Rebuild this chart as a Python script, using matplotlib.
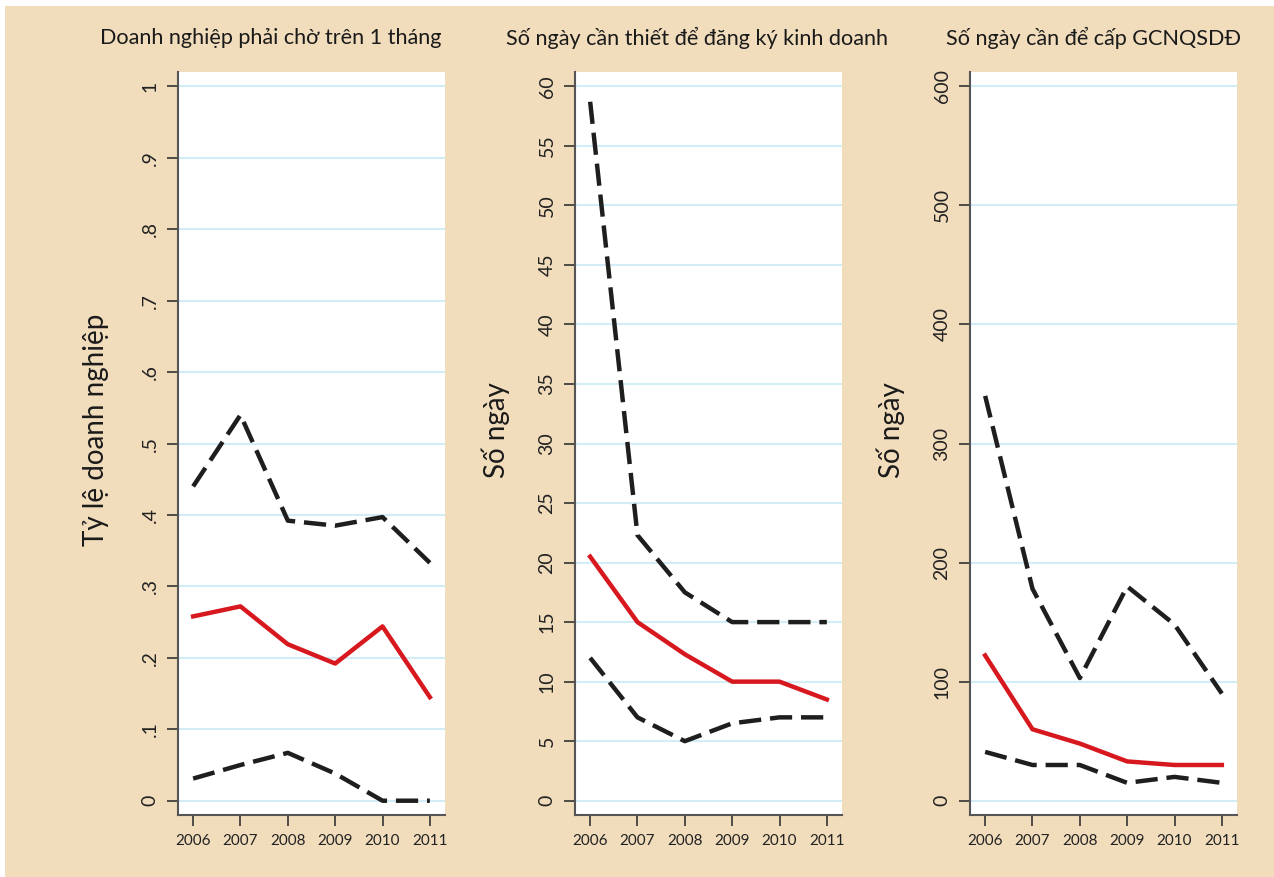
import numpy as np
import matplotlib
matplotlib.use("Agg")
import matplotlib.pyplot as plt
from matplotlib.patches import Rectangle

years = [2006, 2007, 2008, 2009, 2010, 2011]

# panel 1: share of firms waiting more than one month
wait_upper = [0.44, 0.54, 0.392, 0.385, 0.397, 0.333]
wait_mid = [0.258, 0.272, 0.219, 0.192, 0.244, 0.145]
wait_lower = [0.031, 0.05, 0.067, 0.038, 0.0, 0.0]

# panel 2: days to register a business
reg_upper = [58.7, 22.3, 17.5, 15, 15, 15]
reg_mid = [20.5, 15, 12.3, 10, 10, 8.5]
reg_lower = [12, 7, 5, 6.5, 7, 7]

# panel 3: days to get land use certificate
land_upper = [340, 178, 103, 180, 148, 90]
land_mid = [122, 60, 48, 33, 30, 30]
land_lower = [41, 30, 30, 15, 20, 15]

titles = ["Doanh nghiệp phải chờ trên 1 tháng",
          "Số ngày cần thiết để đăng ký kinh doanh",
          "Số ngày cần để cấp GCNQSDĐ"]
ylabels = ["Tỷ lệ doanh nghiệp", "Số ngày", "Số ngày"]

p1_ticks = [0, .1, .2, .3, .4, .5, .6, .7, .8, .9, 1]
p1_labels = ["0", ".1", ".2", ".3", ".4", ".5", ".6", ".7", ".8", ".9", "1"]
p2_ticks = list(range(0, 61, 5))
p3_ticks = list(range(0, 601, 100))

BG = "#f1dcbc"
GRID = "#d2ecf8"
RED = "#d7181f"
DARK = "#1e1e1e"
plt.rcParams["font.family"] = ["Lato", "DejaVu Sans"]

fig = plt.figure(figsize=(12.74, 8.77), dpi=100, facecolor="white")
fig.patches.append(Rectangle((5 / 1274, 0), 1, 1 - 6 / 877, transform=fig.transFigure,
                             facecolor=BG, edgecolor="none", zorder=-10))

lefts = [178, 575, 970]
panels = [
    (wait_upper, wait_mid, wait_lower, p1_ticks, p1_labels, 1.0),
    (reg_upper, reg_mid, reg_lower, p2_ticks, [str(t) for t in p2_ticks], 60),
    (land_upper, land_mid, land_lower, p3_ticks, [str(t) for t in p3_ticks], 600),
]
title_x = [271, 697, 1093]
ylabel_x = [96, 496, 891]

for i, (up, mid, low, ticks, labels, top) in enumerate(panels):
    ax = fig.add_axes([lefts[i] / 1274, 1 - 815 / 877, 267 / 1274, 743 / 877])
    ax.set_facecolor("white")
    pad = top * 0.02
    ax.set_ylim(-pad, top + pad)
    ax.set_xlim(2005.68, 2011.32)

    ax.plot(years, up, color=DARK, lw=3.2, dashes=(5, 2), solid_capstyle="butt")
    ax.plot(years, low, color=DARK, lw=3.2, dashes=(5, 2), solid_capstyle="butt")
    ax.plot(years, mid, color=RED, lw=3.2)

    ax.set_yticks(ticks)
    ax.set_yticklabels(labels, rotation=90, va="center", fontsize=14, color="#222222")
    ax.set_xticks(years)
    ax.set_xticklabels([str(y) for y in years], fontsize=11, color="#222222")
    ax.grid(axis="y", color=GRID, lw=1.5)
    ax.set_axisbelow(True)
    ax.tick_params(axis="both", direction="out", length=8, width=1.2, color="#333333", pad=6)
    for s in ["top", "right"]:
        ax.spines[s].set_visible(False)
    for s in ["left", "bottom"]:
        ax.spines[s].set_color("#555555")
        ax.spines[s].set_linewidth(1.5)

    fig.text(title_x[i] / 1274, 1 - 38 / 877, titles[i], ha="center", va="center",
             fontsize=15.6, color="#1a1a1a")
    fig.text(ylabel_x[i] / 1274, 1 - 430 / 877, ylabels[i], ha="center", va="center",
             rotation=90, fontsize=20, color="#1a1a1a")

fig.savefig("out.png", dpi=100, facecolor=fig.get_facecolor())
